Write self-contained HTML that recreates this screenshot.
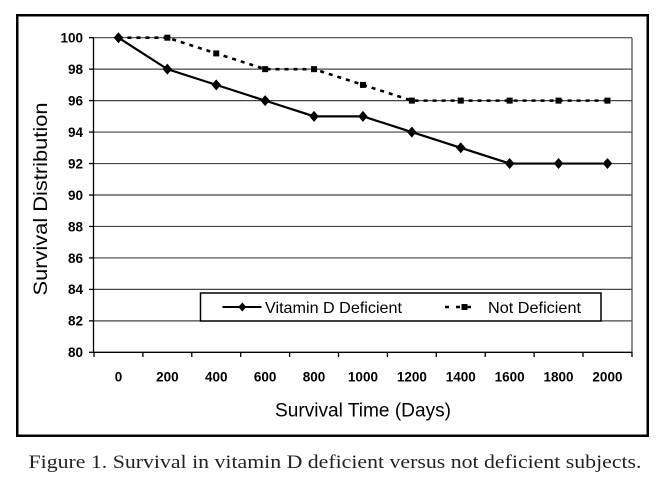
<!DOCTYPE html>
<html><head><meta charset="utf-8"><style>
html,body{margin:0;padding:0;background:#fff;}
svg{display:block;}
.s{font-family:"Liberation Sans",Arial,sans-serif;}
.b{font-family:"Liberation Sans",Arial,sans-serif;font-weight:bold;font-size:13.5px;}
.c{font-family:"Liberation Serif","Times New Roman",serif;}
</style></head><body>
<svg width="669" height="489" viewBox="0 0 669 489" xmlns="http://www.w3.org/2000/svg">
<rect x="0" y="0" width="669" height="489" fill="#fff"/>
<rect x="17.25" y="15.25" width="630.5" height="420.5" fill="none" stroke="#000" stroke-width="2.5"/>
<!-- gridlines -->
<g stroke="#444" stroke-width="1.2">
<line x1="94" y1="37.7" x2="632" y2="37.7"/>
<line x1="94" y1="69.16" x2="632" y2="69.16"/>
<line x1="94" y1="100.62" x2="632" y2="100.62"/>
<line x1="94" y1="132.08" x2="632" y2="132.08"/>
<line x1="94" y1="163.54" x2="632" y2="163.54"/>
<line x1="94" y1="195" x2="632" y2="195"/>
<line x1="94" y1="226.46" x2="632" y2="226.46"/>
<line x1="94" y1="257.92" x2="632" y2="257.92"/>
<line x1="94" y1="289.38" x2="632" y2="289.38"/>
<line x1="94" y1="320.84" x2="632" y2="320.84"/>
<line x1="632" y1="37.7" x2="632" y2="352.3"/>
</g>
<!-- axes -->
<g stroke="#000" stroke-width="1.3">
<line x1="93.5" y1="37.7" x2="93.5" y2="352.3"/>
<line x1="93.5" y1="352.3" x2="632" y2="352.3"/>
<line x1="89" y1="37.7" x2="94" y2="37.7"/>
<line x1="89" y1="69.16" x2="94" y2="69.16"/>
<line x1="89" y1="100.62" x2="94" y2="100.62"/>
<line x1="89" y1="132.08" x2="94" y2="132.08"/>
<line x1="89" y1="163.54" x2="94" y2="163.54"/>
<line x1="89" y1="195" x2="94" y2="195"/>
<line x1="89" y1="226.46" x2="94" y2="226.46"/>
<line x1="89" y1="257.92" x2="94" y2="257.92"/>
<line x1="89" y1="289.38" x2="94" y2="289.38"/>
<line x1="89" y1="320.84" x2="94" y2="320.84"/>
<line x1="89" y1="352.3" x2="94" y2="352.3"/>
<line x1="94" y1="352" x2="94" y2="357"/>
<line x1="142.9" y1="352" x2="142.9" y2="357"/>
<line x1="191.8" y1="352" x2="191.8" y2="357"/>
<line x1="240.7" y1="352" x2="240.7" y2="357"/>
<line x1="289.6" y1="352" x2="289.6" y2="357"/>
<line x1="338.5" y1="352" x2="338.5" y2="357"/>
<line x1="387.4" y1="352" x2="387.4" y2="357"/>
<line x1="436.3" y1="352" x2="436.3" y2="357"/>
<line x1="485.2" y1="352" x2="485.2" y2="357"/>
<line x1="534.1" y1="352" x2="534.1" y2="357"/>
<line x1="583" y1="352" x2="583" y2="357"/>
<line x1="632" y1="352" x2="632" y2="357"/>
</g>
<!-- y labels -->
<g class="b" text-anchor="end" fill="#000">
<text x="83" y="42.5">100</text>
<text x="83" y="74">98</text>
<text x="83" y="105.5">96</text>
<text x="83" y="137">94</text>
<text x="83" y="168.5">92</text>
<text x="83" y="200">90</text>
<text x="83" y="231.5">88</text>
<text x="83" y="263">86</text>
<text x="83" y="294">84</text>
<text x="83" y="325.5">82</text>
<text x="83" y="357">80</text>
</g>
<!-- x labels -->
<g class="b" text-anchor="middle" fill="#000">
<text x="118.45" y="381.5">0</text>
<text x="167.35" y="381.5">200</text>
<text x="216.25" y="381.5">400</text>
<text x="265.15" y="381.5">600</text>
<text x="314.05" y="381.5">800</text>
<text x="362.95" y="381.5">1000</text>
<text x="411.85" y="381.5">1200</text>
<text x="460.75" y="381.5">1400</text>
<text x="509.65" y="381.5">1600</text>
<text x="558.55" y="381.5">1800</text>
<text x="607.45" y="381.5">2000</text>
</g>
<!-- titles -->
<text class="s" x="363" y="416.5" font-size="19" text-anchor="middle" textLength="176" lengthAdjust="spacingAndGlyphs">Survival Time (Days)</text>
<text class="s" transform="translate(47,199) rotate(-90)" x="0" y="0" font-size="19.5" text-anchor="middle" textLength="193" lengthAdjust="spacingAndGlyphs">Survival Distribution</text>
<!-- Not deficient series -->
<polyline fill="none" stroke="#000" stroke-width="2.6" stroke-dasharray="4,5" points="118.45,37.7 167.35,37.7 216.25,53.43 265.15,69.16 314.05,69.16 362.95,84.89 411.85,100.62 460.75,100.62 509.65,100.62 558.55,100.62 607.45,100.62"/>
<g fill="#000">
<rect x="164.35" y="34.7" width="6" height="6"/>
<rect x="213.25" y="50.43" width="6" height="6"/>
<rect x="262.15" y="66.16" width="6" height="6"/>
<rect x="311.05" y="66.16" width="6" height="6"/>
<rect x="359.95" y="81.89" width="6" height="6"/>
<rect x="408.85" y="97.62" width="6" height="6"/>
<rect x="457.75" y="97.62" width="6" height="6"/>
<rect x="506.65" y="97.62" width="6" height="6"/>
<rect x="555.55" y="97.62" width="6" height="6"/>
<rect x="604.45" y="97.62" width="6" height="6"/>
</g>
<!-- Vitamin D series -->
<polyline fill="none" stroke="#000" stroke-width="2.2" points="118.45,37.7 167.35,69.16 216.25,84.89 265.15,100.62 314.05,116.35 362.95,116.35 411.85,132.08 460.75,147.81 509.65,163.54 558.55,163.54 607.45,163.54"/>
<g fill="#000">
<path d="M118.45,32.2 L123.2,37.7 L118.45,43.2 L113.7,37.7Z"/>
<path d="M167.35,63.66 L172.1,69.16 L167.35,74.66 L162.6,69.16Z"/>
<path d="M216.25,79.39 L221,84.89 L216.25,90.39 L211.5,84.89Z"/>
<path d="M265.15,95.12 L269.9,100.62 L265.15,106.12 L260.4,100.62Z"/>
<path d="M314.05,110.85 L318.8,116.35 L314.05,121.85 L309.3,116.35Z"/>
<path d="M362.95,110.85 L367.7,116.35 L362.95,121.85 L358.2,116.35Z"/>
<path d="M411.85,126.58 L416.6,132.08 L411.85,137.58 L407.1,132.08Z"/>
<path d="M460.75,142.31 L465.5,147.81 L460.75,153.31 L456,147.81Z"/>
<path d="M509.65,158.04 L514.4,163.54 L509.65,169.04 L504.9,163.54Z"/>
<path d="M558.55,158.04 L563.3,163.54 L558.55,169.04 L553.8,163.54Z"/>
<path d="M607.45,158.04 L612.2,163.54 L607.45,169.04 L602.7,163.54Z"/>
</g>
<!-- legend -->
<rect x="200.5" y="293" width="400.5" height="28" fill="#fff" stroke="#000" stroke-width="1.5"/>
<line x1="222.5" y1="307" x2="261.5" y2="307" stroke="#000" stroke-width="2"/>
<path d="M242.3,302.5 L246.3,307 L242.3,311.5 L238.3,307Z" fill="#000"/>
<text class="s" x="265" y="313" font-size="16" textLength="137" lengthAdjust="spacingAndGlyphs">Vitamin D Deficient</text>
<line x1="445" y1="307" x2="476" y2="307" stroke="#000" stroke-width="2.4" stroke-dasharray="4,7"/>
<rect x="461.5" y="304" width="6" height="6" fill="#000"/>
<text class="s" x="488" y="313" font-size="16" textLength="93" lengthAdjust="spacingAndGlyphs">Not Deficient</text>
<!-- caption -->
<text class="c" x="28.5" y="468" font-size="18.5" fill="#222" textLength="613" lengthAdjust="spacingAndGlyphs">Figure 1. Survival in vitamin D deficient versus not deficient subjects.</text>
</svg>
</body></html>
